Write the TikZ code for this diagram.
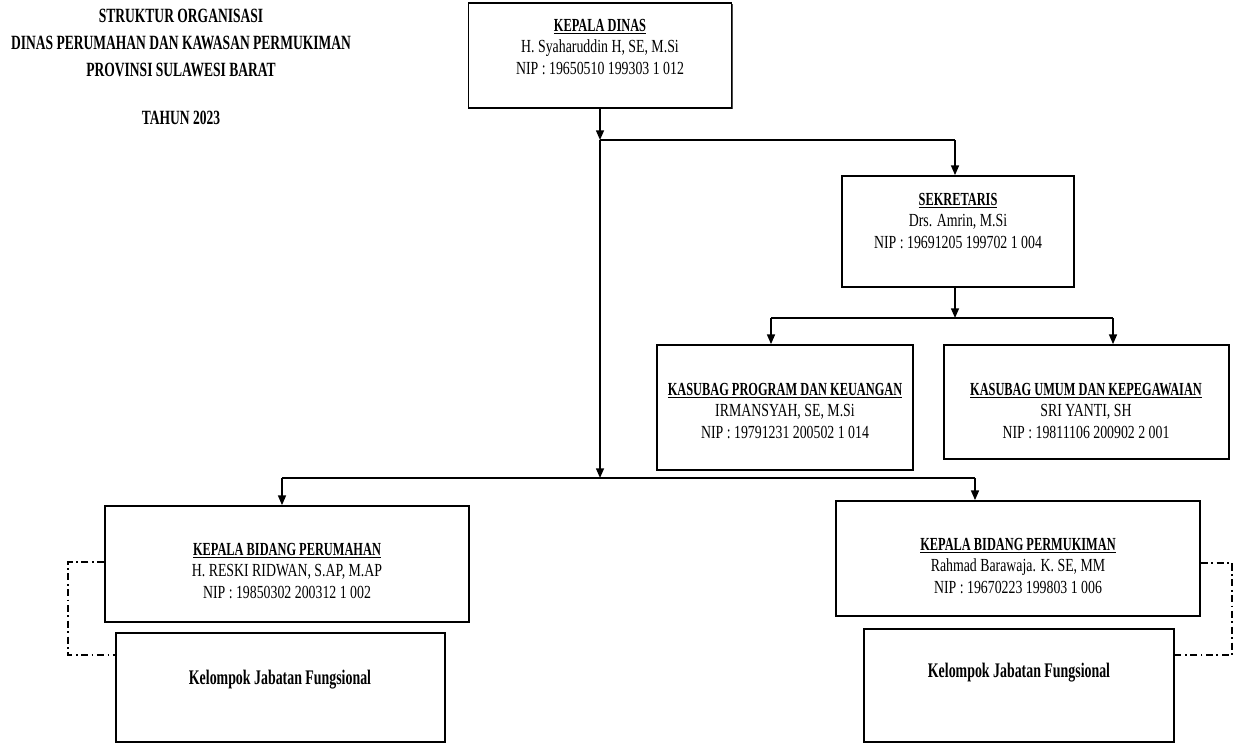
\documentclass[tikz,border=0pt]{standalone}
\usepackage{fontspec}
\setmainfont{Liberation Serif}[FakeStretch=0.75, BoldFeatures={FakeStretch=0.67}]
\usepackage{tikz}
\usetikzlibrary{arrows.meta, calc, shadows}

\tikzset{
    box/.style 2 args={draw, fill=white, line width=1pt, minimum width=#1, minimum height=#2,
        drop shadow={shadow xshift=0.6pt, shadow yshift=-0.6pt, fill=black!70, opacity=1}},
    boxtext/.style={align=center, font=\fontsize{10.5pt}{12.5pt}\selectfont},
    fungtext/.style={align=center, font=\fontsize{11.8pt}{13pt}\selectfont\bfseries},
    heading/.style={align=center, font=\fontsize{11.5pt}{15.3pt}\selectfont\bfseries},
    arr/.style={line width=0.9pt, -{Triangle[length=5.5pt,width=4.5pt]}},
    link/.style={line width=0.9pt},
    fung/.style={line width=1pt, dash pattern=on 4pt off 2pt on 1pt off 2pt}
}
\newcommand{\jab}[1]{\underline{\textbf{#1}}}

\begin{document}
\begin{tikzpicture}[x=0.02cm, y=-0.02cm]
        \useasboundingbox (0,0) rectangle (1239,744);

        % judul
        \node[heading] (judul) at (181,43) {STRUKTUR ORGANISASI\\DINAS PERUMAHAN DAN KAWASAN PERMUKIMAN\\PROVINSI SULAWESI BARAT};
        \node[heading] (tahun) at (181,118) {TAHUN 2023};

        % kotak jabatan
        \node[box={5.26cm}{2.10cm}] (kadis) at (600,55.5) {};
        \node[box={4.64cm}{2.22cm}] (sekre) at (958,231.5) {};
        \node[box={5.12cm}{2.50cm}] (kprog) at (785,407.5) {};
        \node[box={5.70cm}{2.28cm}] (kumum) at (1086.5,402) {};
        \node[box={7.28cm}{2.32cm}] (kbper) at (287,564) {};
        \node[box={6.58cm}{2.18cm}] (kjfl) at (280.5,687.5) {};
        \node[box={7.28cm}{2.30cm}] (kbpm) at (1018,558.5) {};
        \node[box={6.20cm}{2.26cm}] (kjfr) at (1019,685.5) {};

        \node[boxtext] (kadis-t) at (600,47) {\jab{KEPALA DINAS}\\H. Syaharuddin H, SE, M.Si\\NIP : 19650510 199303 1 012};
        \node[boxtext] (sekre-t) at (958,221) {\jab{SEKRETARIS}\\Drs. Amrin, M.Si\\NIP : 19691205 199702 1 004};
        \node[boxtext] (kprog-t) at (785,411) {\jab{KASUBAG PROGRAM DAN KEUANGAN}\\IRMANSYAH, SE, M.Si\\NIP : 19791231 200502 1 014};
        \node[boxtext] (kumum-t) at (1086,411) {\jab{KASUBAG UMUM DAN KEPEGAWAIAN}\\SRI YANTI, SH\\NIP : 19811106 200902 2 001};
        \node[boxtext] (kbper-t) at (287,571) {\jab{KEPALA BIDANG PERUMAHAN}\\H. RESKI RIDWAN, S.AP, M.AP\\NIP : 19850302 200312 1 002};
        \node[boxtext] (kbpm-t) at (1018,566) {\jab{KEPALA BIDANG PERMUKIMAN}\\Rahmad Barawaja. K. SE, MM\\NIP : 19670223 199803 1 006};
        \node[fungtext] (kjfl-t) at (280,680) {Kelompok Jabatan Fungsional};
        \node[fungtext] (kjfr-t) at (1019,673) {Kelompok Jabatan Fungsional};

        % titik cabang
        \coordinate (j1) at (600,140);
        \coordinate (j2) at (600,478);
        \coordinate (s0) at (955,140);
        \coordinate (s1) at (955,318);
        \coordinate (s-prog) at (771,318);
        \coordinate (s-umum) at (1113,318);
        \coordinate (b-per) at (282,478);
        \coordinate (b-pm) at (975,478);

        % garis komando
        \draw[arr] (kadis.south) -- (j1);
        \draw[link] (j1) -- (s0);
        \draw[arr] (s0) -- (s0 |- sekre.north);
        \draw[arr] (j1) -- (j2);

        \draw[arr] (s1 |- sekre.south) -- (s1);
        \draw[link] (s-prog) -- (s-umum);
        \draw[arr] (s-prog) -- (s-prog |- kprog.north);
        \draw[arr] (s-umum) -- (s-umum |- kumum.north);

        \draw[link] (b-per) -- (b-pm);
        \draw[arr] (b-per) -- (b-per |- kbper.north);
        \draw[arr] (b-pm) -- (b-pm |- kbpm.north);

        % garis koordinasi fungsional
        \coordinate (fl1) at (68,562);
        \coordinate (fl2) at (68,655);
        \coordinate (fr1) at (1232,563);
        \coordinate (fr2) at (1232,655);
        \draw[fung] (fl1 -| kbper.west) -- (fl1) -- (fl2) -- (fl2 -| kjfl.west);
        \draw[fung] (fr1 -| kbpm.east) -- (fr1) -- (fr2) -- (fr2 -| kjfr.east);
    \end{tikzpicture}
\end{document}
